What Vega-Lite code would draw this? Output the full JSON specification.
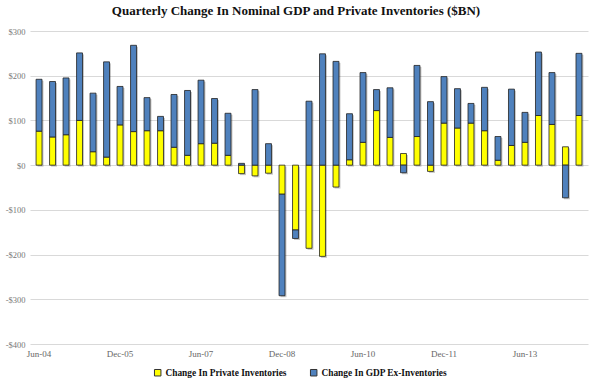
{
  "$schema": "https://vega.github.io/schema/vega-lite/v6.json",
  "width": 558,
  "height": 313,
  "autosize": {"type": "none"},
  "padding": {"left": 30, "top": 31, "right": 12, "bottom": 42},
  "background": "white",
  "title": {
    "text": "Quarterly Change In Nominal GDP and Private Inventories ($BN)",
    "font": "Liberation Serif",
    "fontSize": 13,
    "fontWeight": "bold",
    "color": "#111111",
    "anchor": "middle",
    "dx": -13,
    "offset": 9
  },
  "data": {
    "values": [
      {"q": "Jun-04", "Change In Private Inventories": 76, "Change In GDP Ex-Inventories": 116},
      {"q": "Sep-04", "Change In Private Inventories": 63, "Change In GDP Ex-Inventories": 124},
      {"q": "Dec-04", "Change In Private Inventories": 68, "Change In GDP Ex-Inventories": 127},
      {"q": "Mar-05", "Change In Private Inventories": 100, "Change In GDP Ex-Inventories": 151},
      {"q": "Jun-05", "Change In Private Inventories": 30, "Change In GDP Ex-Inventories": 131},
      {"q": "Sep-05", "Change In Private Inventories": 18, "Change In GDP Ex-Inventories": 213},
      {"q": "Dec-05", "Change In Private Inventories": 90, "Change In GDP Ex-Inventories": 86},
      {"q": "Mar-06", "Change In Private Inventories": 75, "Change In GDP Ex-Inventories": 193},
      {"q": "Jun-06", "Change In Private Inventories": 77, "Change In GDP Ex-Inventories": 74},
      {"q": "Sep-06", "Change In Private Inventories": 77, "Change In GDP Ex-Inventories": 32},
      {"q": "Dec-06", "Change In Private Inventories": 40, "Change In GDP Ex-Inventories": 118},
      {"q": "Mar-07", "Change In Private Inventories": 22, "Change In GDP Ex-Inventories": 145},
      {"q": "Jun-07", "Change In Private Inventories": 48, "Change In GDP Ex-Inventories": 142},
      {"q": "Sep-07", "Change In Private Inventories": 49, "Change In GDP Ex-Inventories": 100},
      {"q": "Dec-07", "Change In Private Inventories": 22, "Change In GDP Ex-Inventories": 94},
      {"q": "Mar-08", "Change In Private Inventories": -19, "Change In GDP Ex-Inventories": 4},
      {"q": "Jun-08", "Change In Private Inventories": -24, "Change In GDP Ex-Inventories": 169},
      {"q": "Sep-08", "Change In Private Inventories": -18, "Change In GDP Ex-Inventories": 48},
      {"q": "Dec-08", "Change In Private Inventories": -65, "Change In GDP Ex-Inventories": -227},
      {"q": "Mar-09", "Change In Private Inventories": -145, "Change In GDP Ex-Inventories": -19},
      {"q": "Jun-09", "Change In Private Inventories": -186, "Change In GDP Ex-Inventories": 143},
      {"q": "Sep-09", "Change In Private Inventories": -204, "Change In GDP Ex-Inventories": 249},
      {"q": "Dec-09", "Change In Private Inventories": -49, "Change In GDP Ex-Inventories": 232},
      {"q": "Mar-10", "Change In Private Inventories": 12, "Change In GDP Ex-Inventories": 103},
      {"q": "Jun-10", "Change In Private Inventories": 51, "Change In GDP Ex-Inventories": 156},
      {"q": "Sep-10", "Change In Private Inventories": 122, "Change In GDP Ex-Inventories": 47},
      {"q": "Dec-10", "Change In Private Inventories": 62, "Change In GDP Ex-Inventories": 111},
      {"q": "Mar-11", "Change In Private Inventories": 26, "Change In GDP Ex-Inventories": -17},
      {"q": "Jun-11", "Change In Private Inventories": 64, "Change In GDP Ex-Inventories": 159},
      {"q": "Sep-11", "Change In Private Inventories": -14, "Change In GDP Ex-Inventories": 142},
      {"q": "Dec-11", "Change In Private Inventories": 94, "Change In GDP Ex-Inventories": 104},
      {"q": "Mar-12", "Change In Private Inventories": 83, "Change In GDP Ex-Inventories": 88},
      {"q": "Jun-12", "Change In Private Inventories": 94, "Change In GDP Ex-Inventories": 44},
      {"q": "Sep-12", "Change In Private Inventories": 77, "Change In GDP Ex-Inventories": 97},
      {"q": "Dec-12", "Change In Private Inventories": 11, "Change In GDP Ex-Inventories": 53},
      {"q": "Mar-13", "Change In Private Inventories": 44, "Change In GDP Ex-Inventories": 126},
      {"q": "Jun-13", "Change In Private Inventories": 51, "Change In GDP Ex-Inventories": 67},
      {"q": "Sep-13", "Change In Private Inventories": 111, "Change In GDP Ex-Inventories": 142},
      {"q": "Dec-13", "Change In Private Inventories": 91, "Change In GDP Ex-Inventories": 116},
      {"q": "Mar-14", "Change In Private Inventories": 41, "Change In GDP Ex-Inventories": -73},
      {"q": "Jun-14", "Change In Private Inventories": 111, "Change In GDP Ex-Inventories": 139}
    ]
  },
  "transform": [
    {"fold": ["Change In Private Inventories", "Change In GDP Ex-Inventories"], "as": ["series", "v"]}
  ],
  "encoding": {
    "x": {
      "field": "q",
      "type": "ordinal",
      "sort": null,
      "scale": {"paddingInner": 0.56, "paddingOuter": 0.45},
      "axis": {
        "values": ["Jun-04", "Dec-05", "Jun-07", "Dec-08", "Jun-10", "Dec-11", "Jun-13"],
        "labelAngle": 0,
        "labelFont": "Liberation Serif",
        "labelFontSize": 9,
        "labelColor": "#666666",
        "ticks": false,
        "domain": false,
        "grid": false,
        "labelPadding": 5,
        "title": null
      }
    },
    "y": {
      "field": "v",
      "type": "quantitative",
      "stack": "zero",
      "scale": {"domain": [-400, 300], "nice": false},
      "axis": {
        "values": [-400, -300, -200, -100, 0, 100, 200, 300],
        "labelExpr": "datum.value < 0 ? '-$' + abs(datum.value) : '$' + datum.value",
        "grid": true,
        "gridColor": "#D9D9D9",
        "gridWidth": 1,
        "domain": false,
        "ticks": false,
        "labelFont": "Liberation Serif",
        "labelFontSize": 8.5,
        "labelColor": "#777777",
        "labelPadding": 5,
        "title": null
      }
    },
    "order": {"field": "series", "sort": "descending"}
  },
  "layer": [
    {
      "mark": {"type": "bar", "color": "#000000", "opacity": 0.22, "xOffset": 1.5, "yOffset": 1.5, "strokeWidth": 0},
      "encoding": {"detail": {"field": "series", "type": "nominal"}}
    },
    {
      "mark": {"type": "bar", "stroke": "#222222", "strokeWidth": 0.8},
      "encoding": {
        "color": {
          "field": "series",
          "type": "nominal",
          "scale": {
            "domain": ["Change In Private Inventories", "Change In GDP Ex-Inventories"],
            "range": ["#FFFF00", "#4F81BD"]
          },
          "legend": {
            "orient": "none",
            "legendX": 123,
            "legendY": 337,
            "direction": "horizontal",
            "title": null,
            "symbolType": "square",
            "symbolSize": 42,
            "symbolStrokeColor": "#333333",
            "symbolStrokeWidth": 1,
            "labelFont": "Liberation Serif",
            "labelFontSize": 9.4,
            "labelFontWeight": "bold",
            "labelColor": "#111111",
            "columnPadding": 21,
            "labelOffset": 3
          }
        }
      }
    }
  ],
  "config": {"view": {"stroke": null}}
}
